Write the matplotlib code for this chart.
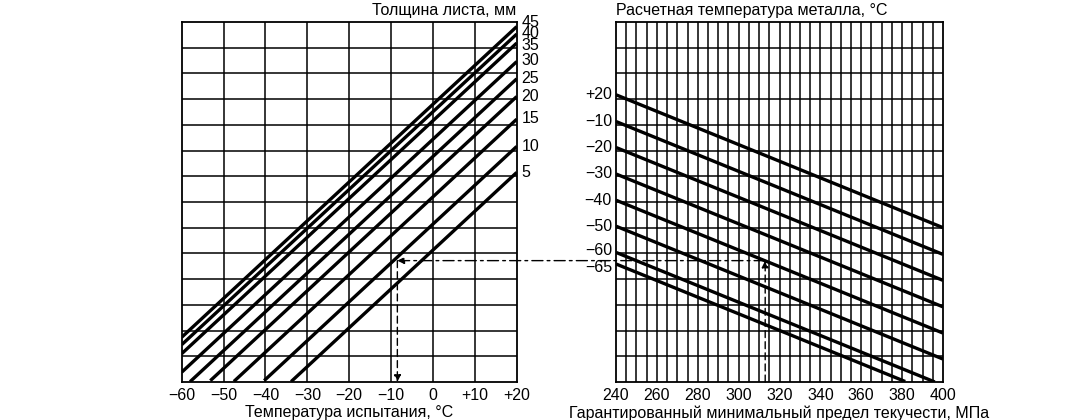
import numpy as np
import matplotlib
matplotlib.use("Agg")
import matplotlib.pyplot as plt
from matplotlib.patches import ConnectionPatch

plt.rcParams["font.family"] = ["Liberation Sans", "DejaVu Sans"]

# Left nomogram: plate thickness lines, level (grid rows) reached at +20 °C
thickness = [45, 40, 35, 30, 25, 20, 15, 10, 5]
level_at_plus20 = [13.82, 13.53, 13.18, 12.46, 11.79, 11.10, 10.22, 9.16, 8.15]
label_level_left = [14.0, 13.55, 13.1, 12.5, 11.8, 11.1, 10.25, 9.15, 8.15]
slope_left = 0.151          # rows per °C
test_ticks = [-60, -50, -40, -30, -20, -10, 0, 10, 20]
test_labels = ["\u221260", "\u221250", "\u221240", "\u221230", "\u221220", "\u221210", "0", "+10", "+20"]

# Right nomogram: design metal temperature lines, level at 240 MPa
metal_temp = ["+20", "\u221210", "\u221220", "\u221230", "\u221240", "\u221250", "\u221260", "\u221265"]
level_at_240 = [11.17, 10.13, 9.12, 8.09, 7.07, 6.06, 5.04, 4.59]
label_level_right = [11.17, 10.13, 9.12, 8.09, 7.07, 6.06, 5.1, 4.45]
slope_right = -0.0323       # rows per MPa
yield_ticks = list(range(240, 401, 20))

# Worked example guide
guide_level = 4.72
guide_temp = -8.5
guide_yield = 313

ROWS = 14
fig = plt.figure(figsize=(10.8, 4.2), dpi=100)
axL = fig.add_axes([181.7 / 1080, 38 / 420, 335 / 1080, 360 / 420])
axR = fig.add_axes([616 / 1080, 38 / 420, 327 / 1080, 360 / 420])

for ax in (axL, axR):
    ax.set_ylim(0, ROWS)
    ax.set_yticks([])
    for h in range(1, ROWS):
        ax.axhline(h, color="black", lw=1.1, zorder=1)
    for s in ax.spines.values():
        s.set_linewidth(1.3)
    ax.tick_params(axis="x", length=0, labelsize=11.5, pad=4)

# left grid
axL.set_xlim(-60, 20)
for x in test_ticks[1:-1]:
    axL.axvline(x, color="black", lw=1.1, zorder=1)
axL.set_xticks(test_ticks)
axL.set_xticklabels(test_labels)
xs = np.linspace(-60, 20, 200)
for t, e, lv in zip(thickness, level_at_plus20, label_level_left):
    ys = e + slope_left * (xs - 20)
    m = ys >= 0
    axL.plot(xs[m], ys[m], color="black", lw=2.4, solid_capstyle="butt", zorder=3)
    axL.text(20 + 1.2, lv, str(t), va="center", ha="left", fontsize=11.5, clip_on=False)
axL.text(20, ROWS + 0.15, "Толщина листа, мм", ha="right", va="bottom", fontsize=11.5)
axL.set_xlabel("Температура испытания, °C", fontsize=11.5, labelpad=2)

# right grid
axR.set_xlim(240, 400)
for x in range(245, 400, 5):
    axR.axvline(x, color="black", lw=1.1, zorder=1)
axR.set_xticks(yield_ticks)
xr = np.linspace(240, 400, 200)
for lab, s, lv in zip(metal_temp, level_at_240, label_level_right):
    ys = s + slope_right * (xr - 240)
    m = ys >= 0
    axR.plot(xr[m], ys[m], color="black", lw=2.4, solid_capstyle="butt", zorder=3)
    axR.text(240 - 2, lv, lab, va="center", ha="right", fontsize=11.5, clip_on=False)
axR.text(240, ROWS + 0.15, "Расчетная температура металла, °C", ha="left", va="bottom", fontsize=11.5)
axR.set_xlabel("Гарантированный минимальный предел текучести, МПа", fontsize=11.5, labelpad=2)

# guide lines
axR.annotate("", xy=(guide_yield, guide_level), xytext=(guide_yield, 0),
             arrowprops=dict(arrowstyle="-|>", color="black", lw=1.0, ls=(0, (5, 3)),
                             mutation_scale=10, shrinkA=0, shrinkB=0), zorder=5)
con = ConnectionPatch(xyA=(guide_yield, guide_level), coordsA=axR.transData,
                      xyB=(guide_temp, guide_level), coordsB=axL.transData,
                      arrowstyle="-|>", color="black", lw=1.0, ls=(0, (8, 3, 2, 3)),
                      mutation_scale=10, shrinkA=0, shrinkB=0, zorder=5)
fig.add_artist(con)
axL.annotate("", xy=(guide_temp, 0), xytext=(guide_temp, guide_level),
             arrowprops=dict(arrowstyle="-|>", color="black", lw=1.0, ls=(0, (5, 3)),
                             mutation_scale=10, shrinkA=0, shrinkB=0), zorder=5)

fig.savefig("out.png", dpi=100)
